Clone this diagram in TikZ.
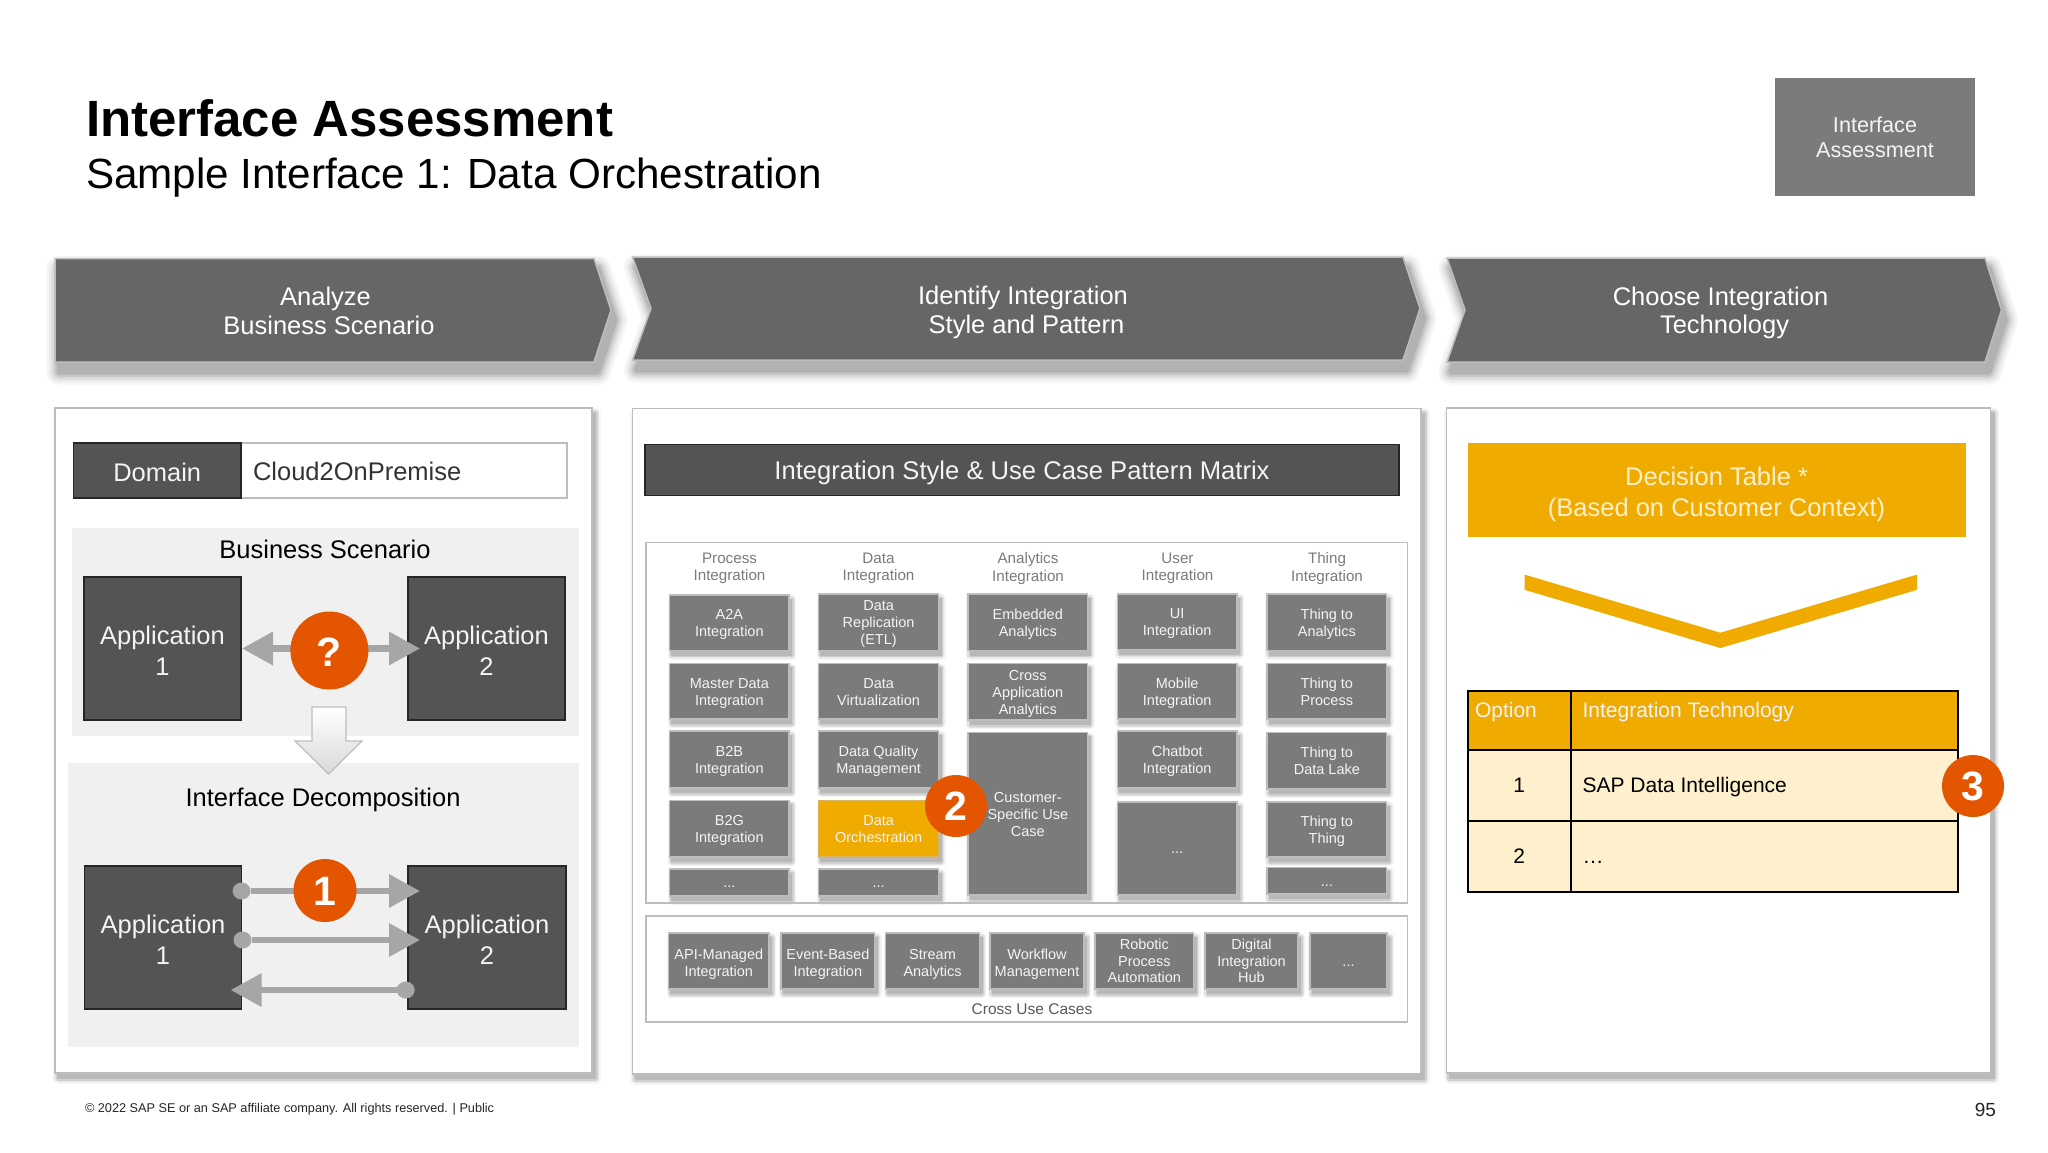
\documentclass[tikz,border=0pt]{standalone}
\usepackage{fontspec}
\setmainfont{Liberation Sans}
\usetikzlibrary{shadows,arrows.meta,calc,shapes.geometric}
\definecolor{chevgray}{HTML}{666666}
\definecolor{appgray}{HTML}{545454}
\definecolor{boxgray}{HTML}{7B7B7B}
\definecolor{edgegray}{HTML}{BDBDBD}
\definecolor{bggray}{HTML}{F0F0F0}
\definecolor{arrowgray}{HTML}{A6A6A6}
\definecolor{sapgold}{HTML}{F0AB00}
\definecolor{cream}{HTML}{FEF0CC}
\definecolor{badge}{HTML}{E35500}
\definecolor{softwhite}{HTML}{F4F4F4}
\newcommand{\fs}[2]{\fontsize{#1}{#2}\selectfont}
\newcommand{\bxdrop}{2}
\newcommand{\dropped}[2]{\raisebox{-#1pt}[\height][\depth]{\begin{tabular}{@{}c@{}}#2\end{tabular}}}
\newcommand{\bx}[7]{%
  \pgfmathsetmacro\bxw{#4-#2}\pgfmathsetmacro\bxh{#5-#3}%
  \node[#6,minimum width=\bxw pt,minimum height=\bxh pt] (#1) at ({(#2+#4)/2},{(#3+#5)/2}) {\dropped{\bxdrop}{#7}};}
\tikzset{
  every node/.style={inner sep=0pt,outer sep=0pt,align=center},
  blurlayer/.style n args={4}{general shadow={shadow xshift=#1pt,shadow yshift=#2pt,fill=black!#4,draw=black!#4,line width=#3pt,line join=round}},
  softshadow/.style={blurlayer={3}{-5}{11}{4},blurlayer={3}{-5}{8}{10},blurlayer={3}{-5}{5}{18},blurlayer={3}{-5}{2}{27}},
  wideshadow/.style={blurlayer={4}{-10}{25}{4},blurlayer={4}{-10}{20}{8},blurlayer={4}{-10}{15}{14},blurlayer={4}{-10}{10}{22},blurlayer={4}{-10}{5}{30}},
  smallshadow/.style={blurlayer={2.5}{-4.5}{9}{5},blurlayer={2.5}{-4.5}{6.5}{11},blurlayer={2.5}{-4.5}{4}{19},blurlayer={2.5}{-4.5}{1.5}{28}},
  panel/.style={draw=edgegray,line width=1.5pt,fill=white,softshadow},
  chevron/.style={draw=edgegray,line width=1.5pt,fill=chevgray,wideshadow},
  chevtext/.style={text=white,font=\fs{25.5}{29}},
  appbox/.style={draw=black!85,line width=1.2pt,fill=appgray,text=softwhite,font=\fs{25.5}{31}},
  bgbox/.style={fill=bggray},
  cellbox/.style={draw=edgegray,line width=1.5pt,fill=boxgray,text=softwhite,font=\fs{14.5}{17},smallshadow},
  cellbox3/.style={cellbox,font=\fs{14.5}{16.5}},
  goldbox/.style={draw=edgegray!50!sapgold,line width=1.5pt,fill=sapgold,text=softwhite,font=\fs{14.5}{17},smallshadow},
  framebox/.style={draw=edgegray,line width=1.5pt},
  head/.style={text=boxgray,font=\fs{15.2}{17.5}},
  badgedot/.style={circle,fill=badge,text=white,font=\bfseries\fs{41}{41}},
  flow/.style={draw=arrowgray,line width=6.5pt,-{Triangle[length=31pt,width=32pt,fill=arrowgray]}},
  startdot/.style={ellipse,fill=arrowgray},
  tablecell/.style={draw=black,line width=2pt,fill=cream,text=black,font=\fs{21}{25}},
  tablehead/.style={draw=black,line width=2pt,fill=sapgold},
  tablehtext/.style={text=softwhite,font=\fs{21}{25},anchor=west},
  tabletext/.style={text=black,font=\fs{21}{25},anchor=west},
}
\begin{document}
\begin{tikzpicture}[x=1pt,y=-1pt]
\useasboundingbox (0,0) rectangle (2048,1152);
\fill[white] (0,0) rectangle (2048,1152);

% title
\node[anchor=base west,font=\bfseries\fs{51}{56}] (title) at (86,136) {Interface Assessment};
\node[anchor=base west,font=\fs{42.2}{48}] (subtitle) at (86,188) {Sample Interface 1: Data Orchestration};
\renewcommand{\bxdrop}{3.3}
\bx{tag}{1775}{78}{1975}{196}{fill=boxgray,text=softwhite,font=\fs{21.6}{25}}{Interface\\Assessment}

% chevrons
\draw[chevron] (55,258.5) -- (594,258.5) -- (611,310) -- (594,362) -- (55,362) -- cycle;
\draw[chevron] (632.5,257) -- (1403,257) -- (1420,308.5) -- (1403,360) -- (632.5,360) -- (651,308.5) -- cycle;
\draw[chevron] (1447,258) -- (1985,258) -- (2001.5,310) -- (1985,362) -- (1447,362) -- (1465,310) -- cycle;
\node[chevtext] (c1a) at (325.5,298.5) {Analyze};
\node[chevtext] (c1b) at (329,325.5) {Business Scenario};
\node[chevtext] (c2a) at (1023,297.5) {Identify Integration};
\node[chevtext] (c2b) at (1026.5,326.5) {Style and Pattern};
\node[chevtext] (c3a) at (1720.5,298.5) {Choose Integration};
\node[chevtext] (c3b) at (1724.5,327) {Technology};

% panels
\bx{p1}{55}{408}{592}{1073}{panel}{}
\bx{p2}{632.5}{408.6}{1421}{1074}{panel}{}
\bx{p3}{1446.5}{408}{1990.7}{1073}{panel}{}

% --- panel 1
\renewcommand{\bxdrop}{5}
\bx{domval}{241}{443}{567}{498}{draw=edgegray,line width=1.5pt,fill=white}{}
\bx{dom}{73.5}{443}{241}{498}{appbox}{Domain}
\node[anchor=west,text=black!80,font=\fs{25.5}{30}] (domtext) at (253,471) {Cloud2OnPremise};
\bx{bs}{72}{528}{579}{736}{bgbox}{}
\bx{id}{68}{763}{579}{1047}{bgbox}{}
\node[font=\fs{25.5}{30},text=black] (bstitle) at (325,549) {Business Scenario};
\node[font=\fs{25.5}{30},text=black] (idtitle) at (323,799.5) {Interface Decomposition};
\renewcommand{\bxdrop}{5.5}
\bx{a1}{84}{577}{241}{720}{appbox}{Application\\1}
\bx{a2}{408}{577}{565}{720}{appbox}{Application\\2}
\bx{b1}{84.5}{866}{241.6}{1009}{appbox}{Application\\1}
\bx{b2}{408}{866}{566}{1009}{appbox}{Application\\2}

\coordinate (qc) at (329.4,648.5);
\coordinate (ql) at (242,648.5);
\coordinate (qr) at (420,648.5);
\draw[flow] (qc) -- (ql);
\draw[flow] (qc) -- (qr);
\node[badgedot,minimum size=78pt] (q) at (329.4,650.5) {\dropped{7.5}{?}};

\draw[draw=edgegray,line width=1.2pt,top color=white,bottom color=black!15]
  (312,707) -- (346,707) -- (346,741) -- (362,741) -- (328.6,774) -- (295,741) -- (312,741) -- cycle;

\node[startdot,minimum width=18pt,minimum height=17pt] (d1) at (241.6,891) {};
\node[startdot,minimum width=18pt,minimum height=17pt] (d2) at (242.5,940) {};
\node[startdot,minimum width=18pt,minimum height=17pt] (d3) at (405.7,990) {};
\coordinate (t1) at (420,891);
\coordinate (t2) at (420,940);
\coordinate (t3) at (230.6,990);
\draw[flow] (d1) -- (t1);
\draw[flow] (d2) -- (t2);
\draw[flow] (d3) -- (t3);
\node[badgedot,minimum size=63pt] (n1) at (325,890.5) {\dropped{6.5}{1}};

% --- panel 2
\renewcommand{\bxdrop}{3.5}
\bx{mbar}{645}{444.7}{1399}{495.6}{draw=black!85,line width=1.2pt,fill=appgray,text=softwhite,font=\fs{25.6}{30}}{Integration Style \& Use Case Pattern Matrix}

\node[head] (h1) at (729.5,568.5) {Process\\Integration};
\node[head] (h2) at (878.5,568.5) {Data\\Integration};
\node[head] (h3) at (1028,568.5) {Analytics\\Integration};
\node[head] (h4) at (1177.5,568.5) {User\\Integration};
\node[head] (h5) at (1327,568.5) {Thing\\Integration};

\renewcommand{\bxdrop}{2}
\bx{m11}{669.7}{595}{789}{650.5}{cellbox}{A2A\\Integration}
\bx{m12}{669.7}{663.5}{789}{719}{cellbox}{Master Data\\Integration}
\bx{m13}{669.7}{731}{789}{788}{cellbox}{B2B\\Integration}
\bx{m14}{669.7}{800.5}{789}{857}{cellbox}{B2G\\Integration}
\bx{m15}{669.7}{869}{789}{896}{cellbox}{...}

\bx{m21}{818.7}{594}{938.5}{650.5}{cellbox}{Data\\Replication\\(ETL)}
\bx{m22}{818.7}{663.5}{938.5}{719}{cellbox}{Data\\Virtualization}
\bx{m23}{818.7}{731}{938.5}{788}{cellbox}{Data Quality\\Management}
\bx{m24}{818.7}{800.5}{938.5}{857}{goldbox}{Data\\Orchestration}
\bx{m25}{818.7}{869}{938.5}{896}{cellbox}{...}

\bx{m31}{968}{594}{1087.6}{650.5}{cellbox}{Embedded\\Analytics}
\bx{m32}{968}{663.5}{1087.6}{720}{cellbox}{Cross\\Application\\Analytics}
\bx{m33}{968}{732.7}{1087.6}{895}{cellbox}{Customer-\\Specific Use\\Case}

\bx{m41}{1117.4}{594}{1237}{649.5}{cellbox}{UI\\Integration}
\bx{m42}{1117.4}{663.5}{1237}{719}{cellbox}{Mobile\\Integration}
\bx{m43}{1117.4}{731}{1237}{788}{cellbox}{Chatbot\\Integration}
\bx{m44}{1117.4}{802}{1237}{895}{cellbox}{...}

\bx{m51}{1267}{594}{1386.7}{650.5}{cellbox}{Thing to\\Analytics}
\bx{m52}{1267}{663.5}{1386.7}{719}{cellbox}{Thing to\\Process}
\bx{m53}{1267}{732.7}{1386.7}{789}{cellbox}{Thing to\\Data Lake}
\bx{m54}{1267}{802}{1386.7}{857}{cellbox}{Thing to\\Thing}
\bx{m55}{1267}{867.5}{1386.7}{894}{cellbox}{...}

\node[badgedot,minimum size=62pt] (n2) at (956,806) {\dropped{6.5}{2}};

\renewcommand{\bxdrop}{3.3}
\bx{u1}{668.6}{933}{769}{989}{cellbox}{API-Managed\\Integration}
\bx{u2}{781}{933}{874.7}{989}{cellbox}{Event-Based\\Integration}
\bx{u3}{885.7}{933}{979.3}{989}{cellbox}{Stream\\Analytics}
\bx{u4}{990}{933}{1084}{989}{cellbox}{Workflow\\Management}
\renewcommand{\bxdrop}{2}
\bx{u5}{1095}{933}{1193.7}{989}{cellbox3}{Robotic\\Process\\Automation}
\bx{u6}{1205}{933}{1298}{989}{cellbox3}{Digital\\Integration\\Hub}
\bx{u7}{1310}{933}{1387}{989}{cellbox}{...}
\node[text=black!65,font=\fs{15.5}{17}] (xlabel) at (1032,1009) {Cross Use Cases};
\bx{mframe}{646}{542.5}{1407.6}{903}{framebox}{}
\bx{xframe}{646}{916}{1407.6}{1022}{framebox}{}

% --- panel 3
\renewcommand{\bxdrop}{4.5}
\bx{dt}{1467.7}{443.4}{1965.5}{537}{fill=sapgold,text=cream,font=\fs{25.5}{31}}{Decision Table *\\(Based on Customer Context)}
\fill[sapgold] (1524.5,574.6) -- (1720.4,632.7) -- (1917,574.6) -- (1917,589.8) -- (1720.4,648) -- (1524.5,589.8) -- cycle;

\renewcommand{\bxdrop}{2}
\bx{th1}{1468}{690.7}{1570.6}{750}{tablehead}{}
\bx{th2}{1570.6}{690.7}{1958}{750}{tablehead}{}
\bx{r11}{1468}{750}{1570.6}{821}{tablecell}{1}
\bx{r12}{1570.6}{750}{1958}{821}{tablecell}{}
\bx{r21}{1468}{821}{1570.6}{892}{tablecell}{2}
\bx{r22}{1570.6}{821}{1958}{892}{tablecell}{}
\node[tablehtext] (tho) at (1475,712.5) {Option};
\node[tablehtext] (tht) at (1582.6,712.5) {Integration Technology};
\node[tabletext] (sapdi) at (1582.6,787.5) {SAP Data Intelligence};
\node[tabletext] (ell) at (1582.6,862) {…};
\node[badgedot,minimum size=62pt] (n3) at (1973,786) {\dropped{6.5}{3}};

% footer
\node[anchor=base west,text=black!85,font=\fs{12.7}{15}] (foot) at (85,1112) {© 2022 SAP SE or an SAP affiliate company. All rights reserved. | Public};
\node[anchor=base east,text=black!85,font=\fs{19}{20}] (page) at (1996,1116) {95};
\end{tikzpicture}
\end{document}
